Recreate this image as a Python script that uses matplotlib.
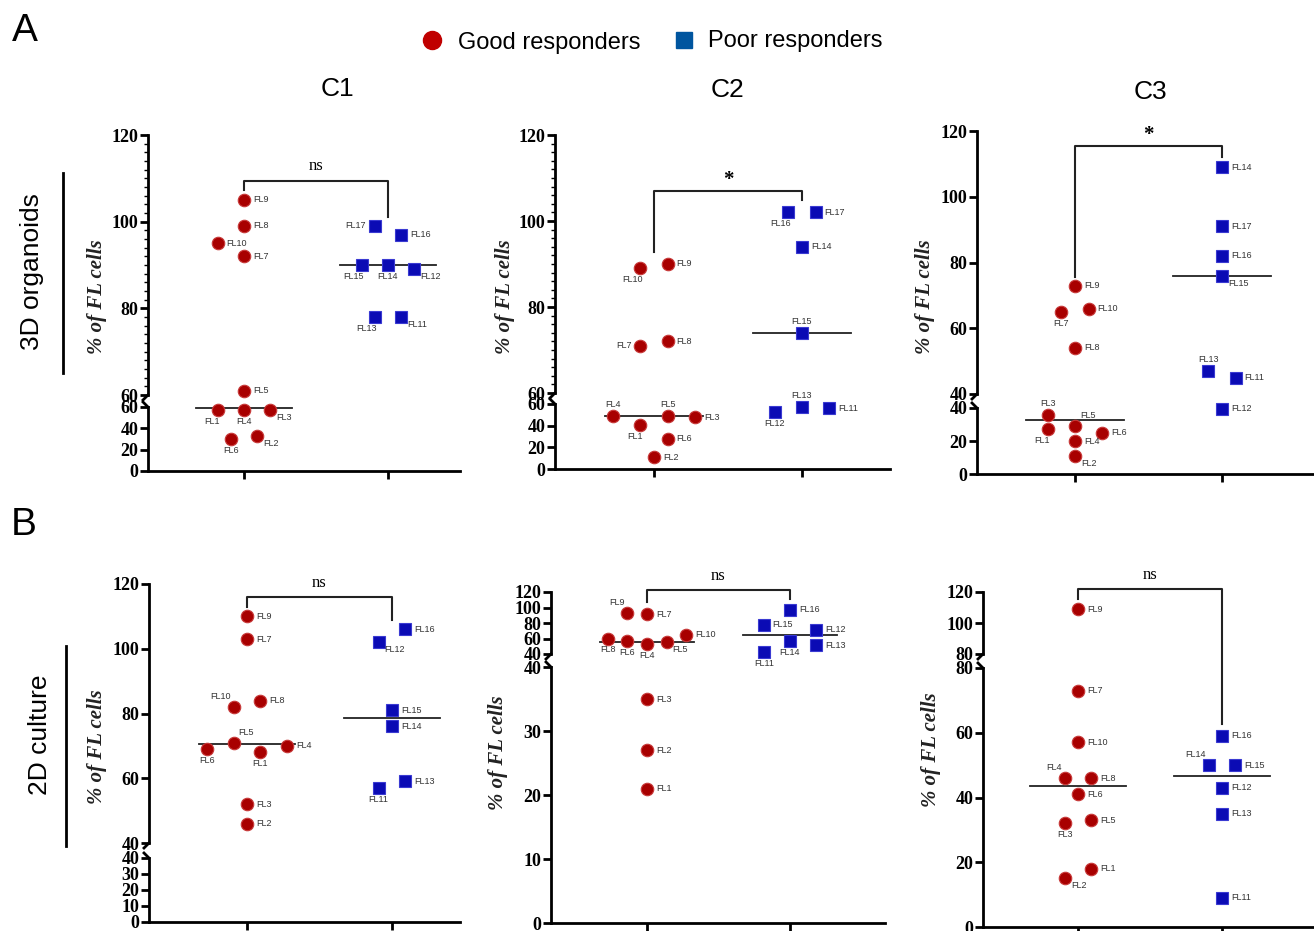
import numpy as np
import matplotlib.pyplot as plt
from matplotlib.lines import Line2D

plt.rcParams['font.family'] = 'Liberation Serif'

W, H = 1314, 931

# sample names
good_names = ["FL1", "FL2", "FL3", "FL4", "FL5", "FL6", "FL7", "FL8", "FL9", "FL10"]
poor_names_3d = ["FL11", "FL12", "FL13", "FL14", "FL15", "FL16", "FL17"]
poor_names_2d = ["FL11", "FL12", "FL13", "FL14", "FL15", "FL16"]

# % of FL cells, 3D organoids (row A)
a_c1_good = [57, 33, 57, 57, 61, 30, 92, 99, 105, 95]
a_c1_poor = [78, 89, 78, 90, 90, 97, 99]
a_c2_good = [41, 11, 48, 49, 49, 28, 71, 72, 90, 89]
a_c2_poor = [56, 53, 57, 94, 74, 102, 102]
a_c3_good = [27, 11, 36, 20, 29, 25, 65, 54, 73, 66]
a_c3_poor = [45, 39.5, 47, 109, 76, 82, 91]

# % of FL cells, 2D culture (row B)
b_c1_good = [68, 46, 52, 70, 71, 69, 103, 84, 110, 82]
b_c1_poor = [57, 102, 59, 76, 81, 106]
b_c2_good = [21, 27, 35, 53, 55, 57, 91, 60, 93, 65]
b_c2_poor = [43, 71, 51, 57, 78, 97]
b_c3_good = [18, 15, 32, 46, 33, 41, 73, 46, 109, 57]
b_c3_poor = [9, 43, 35, 50, 50, 59]

# swarm slot of each point (layout only)
a_c1_good_slot = [-2, 1, 2, 0, 0, -1, 0, 0, 0, -2]
a_c1_poor_slot = [1, 2, -1, 0, -2, 1, -1]
a_c2_good_slot = [-1, 0, 3, -3, 1, 1, -1, 1, 1, -1]
a_c2_poor_slot = [2, -2, 0, 0, 0, -1, 1]
a_c3_good_slot = [-2, 0, -2, 0, 0, 2, -1, 0, 0, 1]
a_c3_poor_slot = [1, 0, -1, 0, 0, 0, 0]
b_c1_good_slot = [1, 0, 0, 3, -1, -3, 0, 1, 0, -1]
b_c1_poor_slot = [-1, -1, 1, 0, 0, 1]
b_c2_good_slot = [0, 0, 0, 0, 1.5, -1.5, 0, -3, -1.5, 3]
b_c2_poor_slot = [-2, 2, 2, 0, -2, 0]
b_c3_good_slot = [1, -1, -1, -1, 1, 0, 0, 1, 0, 0]
b_c3_poor_slot = [0, 0, 0, -1, 1, 0]

# where each point label sits
a_c1_good_lab = ['bl', 'br', 'br', 'b', 'r', 'b', 'r', 'r', 'r', 'r']
a_c1_poor_lab = ['br', 'br', 'bl', 'b', 'bl', 'r', 'l']
a_c2_good_lab = ['bl', 'r', 'r', 't', 't', 'r', 'l', 'r', 'r', 'bl']
a_c2_poor_lab = ['r', 'b', 't', 'r', 't', 'bl', 'r']
a_c3_good_lab = ['bl', 'br', 't', 'r', 'tr', 'r', 'b', 'r', 'r', 'r']
a_c3_poor_lab = ['r', 'r', 't', 'r', 'br', 'r', 'r']
b_c1_good_lab = ['b', 'r', 'r', 'r', 'tr', 'b', 'r', 'r', 'r', 'tl']
b_c1_poor_lab = ['b', 'br', 'r', 'r', 'r', 'r']
b_c2_good_lab = ['r', 'r', 'r', 'b', 'br', 'b', 'r', 'b', 'tl', 'r']
b_c2_poor_lab = ['b', 'r', 'r', 'b', 'r', 'r']
b_c3_good_lab = ['r', 'br', 'b', 'tl', 'r', 'r', 'r', 'r', 'r', 'r']
b_c3_poor_lab = ['r', 'r', 'r', 'tl', 'r', 'r']

LAB = {
    'r': (9, 0, 'left', 'center'),
    'l': (-9, 0, 'right', 'center'),
    'b': (0, -7, 'center', 'top'),
    't': (0, 7, 'center', 'bottom'),
    'bl': (2, -7, 'right', 'top'),
    'br': (6, -3, 'left', 'top'),
    'tl': (-3, 6, 'right', 'bottom'),
    'tr': (5, 6, 'left', 'bottom'),
}

panels = [
    dict(good=a_c1_good, poor=a_c1_poor, pn=poor_names_3d, gs=a_c1_good_slot, ps=a_c1_poor_slot,
         gl=a_c1_good_lab, pl=a_c1_poor_lab, xpx=(148, 244, 388, 460),
         up=(135, 395, 60, 120, [60, 80, 100, 120]), lo=(407, 471, 0, 60, [0, 20, 40, 60]),
         minor=True, br=(109.5, 107.3, 101, "ns"), ylab=(97, 297)),
    dict(good=a_c2_good, poor=a_c2_poor, pn=poor_names_3d, gs=a_c2_good_slot, ps=a_c2_poor_slot,
         gl=a_c2_good_lab, pl=a_c2_poor_lab, xpx=(555, 654, 802, 890),
         up=(135, 393, 60, 120, [60, 80, 100, 120]), lo=(404, 469, 0, 60, [0, 20, 40, 60]),
         minor=True, br=(107, 92.7, 105, "*"), ylab=(505, 297)),
    dict(good=a_c3_good, poor=a_c3_poor, pn=poor_names_3d, gs=a_c3_good_slot, ps=a_c3_poor_slot,
         gl=a_c3_good_lab, pl=a_c3_poor_lab, xpx=(977, 1075, 1222, 1314),
         up=(131, 394, 40, 120, [40, 60, 80, 100, 120]), lo=(408, 474, 0, 40, [0, 20, 40]),
         minor=False, br=(115.3, 75.7, 112, "*"), ylab=(925, 297)),
    dict(good=b_c1_good, poor=b_c1_poor, pn=poor_names_2d, gs=b_c1_good_slot, ps=b_c1_poor_slot,
         gl=b_c1_good_lab, pl=b_c1_poor_lab, xpx=(149, 247, 392, 460),
         up=(584, 843, 40, 120, [40, 60, 80, 100, 120]), lo=(858, 922, 0, 40, [0, 10, 20, 30, 40]),
         minor=False, br=(116, 113, 109, "ns"), ylab=(97, 747)),
    dict(good=b_c2_good, poor=b_c2_poor, pn=poor_names_2d, gs=b_c2_good_slot, ps=b_c2_poor_slot,
         gl=b_c2_good_lab, pl=b_c2_poor_lab, xpx=(551, 647, 790, 885),
         up=(592, 654, 40, 120, [40, 60, 80, 100, 120]), lo=(667, 923, 0, 40, [0, 10, 20, 30, 40]),
         minor=False, br=(122, 106.5, 110.6, "ns"), ylab=(498, 753)),
    dict(good=b_c3_good, poor=b_c3_poor, pn=poor_names_2d, gs=b_c3_good_slot, ps=b_c3_poor_slot,
         gl=b_c3_good_lab, pl=b_c3_poor_lab, xpx=(983, 1078, 1222, 1314),
         up=(592, 654, 80, 120, [80, 100, 120]), lo=(668, 927, 0, 80, [0, 20, 40, 60, 80]),
         minor=False, br=(122.2, 115.8, 62.8, "ns"), ylab=(931, 750)),
]

RED, RED_E = '#A80000', '#C83A3A'
BLUE, BLUE_E = '#0B0BB4', '#3A3AD2'
STEP = 0.092

fig = plt.figure(figsize=(W / 100, H / 100), dpi=100)


def fline(pts, **kw):
    xs = [q[0] / W for q in pts]
    ys = [1 - q[1] / H for q in pts]
    fig.add_artist(Line2D(xs, ys, transform=fig.transFigure, **kw))


def draw_panel(p):
    x0, t0, t1, x1 = p["xpx"]
    sp = t1 - t0
    xlim = (-(t0 - x0) / sp, (x1 - t0) / sp)
    axes = {}
    for key in ("up", "lo"):
        top, bot, vlo, vhi, ticks = p[key]
        ax = fig.add_axes([x0 / W, 1 - bot / H, (x1 - x0) / W, (bot - top) / H])
        ax.set_xlim(*xlim)
        ax.set_ylim(vlo, vhi)
        ax.patch.set_alpha(0)
        ax.spines["top"].set_visible(False)
        ax.spines["right"].set_visible(False)
        ax.spines["left"].set_linewidth(2)
        ax.set_yticks(ticks)
        ax.tick_params(axis="y", length=6, width=2, labelsize=13, pad=1)
        for t in ax.get_yticklabels():
            t.set_fontweight("bold")
        axes[key] = ax
    up, lo = axes["up"], axes["lo"]
    up.spines["bottom"].set_visible(False)
    up.set_xticks([])
    if p["minor"]:
        up.set_yticks(np.arange(p["up"][2], p["up"][3], 2), minor=True)
        up.tick_params(axis="y", which="minor", length=3, width=1)
    lo.spines["bottom"].set_linewidth(2)
    lo.set_xticks([0, 1])
    lo.set_xticklabels([])
    lo.tick_params(axis="x", length=6, width=2)

    split = p["up"][2]

    def seg(v):
        return up if v >= split else lo

    groups = [
        (0, p["good"], p["gs"], good_names, p["gl"], 'o', RED, RED_E),
        (1, p["poor"], p["ps"], p["pn"], p["pl"], 's', BLUE, BLUE_E),
    ]
    for idx, vals, slots, names, labs, mk, fc, ec in groups:
        for v, s, n, l in zip(vals, slots, names, labs):
            ax = seg(v)
            xv = idx + s * STEP
            ax.plot(xv, v, marker=mk, ms=9, mfc=fc, mec=ec, mew=0.8,
                    linestyle='none', clip_on=False, zorder=5)
            dx, dy, ha, va = LAB[l]
            ax.annotate(n, (xv, v), xytext=(dx, dy), textcoords="offset pixels",
                        ha=ha, va=va, fontsize=6.5, family="Liberation Sans",
                        color="#333333", annotation_clip=False, zorder=6)
        med = np.median(vals)
        seg(med).plot([idx - 0.33, idx + 0.33], [med, med], color="#222222",
                      lw=1.3, clip_on=False, zorder=4)

    # axis break marks
    up_bot = p["up"][1]
    lo_top = p["lo"][0]
    fline([(x0, up_bot), (x0 - 5, up_bot + 5)], color='black', lw=2)
    fline([(x0 - 5, lo_top - 5), (x0, lo_top)], color='black', lw=2)

    # significance bracket
    top_v, lv, rv, txt = p["br"]

    def pix(xv, v):
        d = seg(v).transData.transform((xv, v))
        return (d[0], H - d[1])

    pts = [pix(0, lv), pix(0, top_v), pix(1, top_v), pix(1, rv)]
    fline(pts, color='#222222', lw=1.5)
    mx = (pts[1][0] + pts[2][0]) / 2
    if txt == "*":
        fig.text(mx / W, 1 - (pts[1][1] - 11) / H, txt, ha='center', va='center',
                 fontsize=15, fontweight='bold')
    else:
        fig.text(mx / W, 1 - (pts[1][1] - 14) / H, txt, ha='center', va='center',
                 fontsize=12)

    yx, yy = p["ylab"]
    fig.text(yx / W, 1 - yy / H, "% of FL cells", rotation=90, ha='center', va='center',
             fontsize=15, fontweight='bold', fontstyle='italic', color='#222222')


for p in panels:
    draw_panel(p)

sans = "Liberation Sans"
fig.text(25 / W, 1 - 31 / H, "A", ha='center', va='center', fontsize=28, family=sans)
fig.text(24 / W, 1 - 525 / H, "B", ha='center', va='center', fontsize=28, family=sans)
fig.text(337 / W, 1 - 89 / H, "C1", ha='center', va='center', fontsize=19, family=sans)
fig.text(727 / W, 1 - 90 / H, "C2", ha='center', va='center', fontsize=19, family=sans)
fig.text(1150 / W, 1 - 92 / H, "C3", ha='center', va='center', fontsize=19, family=sans)

# legend
fig.add_artist(Line2D([432 / W], [1 - 40 / H], marker='o', ms=13, color='#C00000',
                      linestyle='none', transform=fig.transFigure))
fig.text(458 / W, 1 - 43 / H, "Good responders", ha='left', va='center', fontsize=17, family=sans)
fig.add_artist(Line2D([684 / W], [1 - 40 / H], marker='s', ms=11.5, color='#00559F',
                      linestyle='none', transform=fig.transFigure))
fig.text(708 / W, 1 - 41 / H, "Poor responders", ha='left', va='center', fontsize=17, family=sans)

# row labels
fig.text(32 / W, 1 - 272 / H, "3D organoids", rotation=90, ha='center', va='center',
         fontsize=19, family=sans)
fline([(63, 173), (63, 373)], color='black', lw=2)
fig.text(40 / W, 1 - 735 / H, "2D culture", rotation=90, ha='center', va='center',
         fontsize=19, family=sans)
fline([(66, 646), (66, 846)], color='black', lw=2)

fig.savefig("out.png", dpi=100)
